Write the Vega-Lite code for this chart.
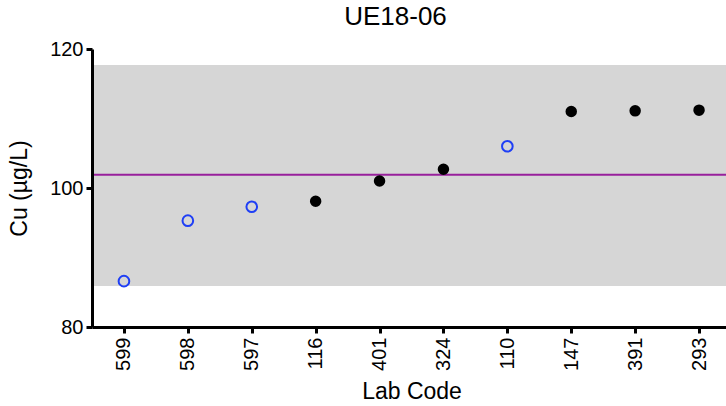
{
  "$schema": "https://vega.github.io/schema/vega-lite/v6.json",
  "autosize": {"type": "none"},
  "padding": {"left": 92, "top": 49, "right": 0, "bottom": 79},
  "width": 639,
  "height": 278,
  "background": "white",
  "title": {"text": "UE18-06", "fontSize": 26, "font": "Liberation Sans", "fontWeight": "normal", "anchor": "middle", "dx": -16, "offset": 9, "color": "black"},
  "config": {
    "view": {"stroke": null},
    "axis": {"labelFont": "Liberation Sans", "titleFont": "Liberation Sans", "labelColor": "black", "titleColor": "black", "domainColor": "black", "tickColor": "black", "domainWidth": 3, "tickWidth": 3, "tickSize": 6, "labelFontSize": 20, "titleFontSize": 23, "titleFontWeight": "normal", "grid": false}
  },
  "datasets": {
    "pts": [
      {"lab": "599", "cu": 86.6, "group": "open"},
      {"lab": "598", "cu": 95.3, "group": "open"},
      {"lab": "597", "cu": 97.3, "group": "open"},
      {"lab": "116", "cu": 98.1, "group": "filled"},
      {"lab": "401", "cu": 101.0, "group": "filled"},
      {"lab": "324", "cu": 102.7, "group": "filled"},
      {"lab": "110", "cu": 106.0, "group": "open"},
      {"lab": "147", "cu": 111.0, "group": "filled"},
      {"lab": "391", "cu": 111.1, "group": "filled"},
      {"lab": "293", "cu": 111.2, "group": "filled"}
    ],
    "band": [{"lo": 85.9, "hi": 117.7, "mid": 101.9}]
  },
  "layer": [
    {
      "data": {"name": "band"},
      "mark": {"type": "rect", "color": "#d6d6d6"},
      "encoding": {
        "y": {"field": "lo", "type": "quantitative", "scale": {"domain": [80, 120]}},
        "y2": {"field": "hi"}
      }
    },
    {
      "data": {"name": "band"},
      "mark": {"type": "rule", "color": "#98209c", "strokeWidth": 2},
      "encoding": {
        "y": {"field": "mid", "type": "quantitative"}
      }
    },
    {
      "data": {"name": "pts"},
      "mark": {"type": "point", "shape": "circle", "filled": true, "strokeWidth": 2, "opacity": 1},
      "encoding": {
        "x": {"field": "lab", "type": "ordinal", "sort": null, "scale": {"type": "point", "padding": 0.5}, "axis": {"zindex": 2, "title": "Lab Code", "labelAngle": -90, "labelAlign": "right", "labelBaseline": "middle", "labelPadding": 4, "titlePadding": 10}},
        "y": {"field": "cu", "type": "quantitative", "scale": {"domain": [80, 120]}, "axis": {"zindex": 2, "title": "Cu (µg/L)", "values": [80, 100, 120], "labelPadding": 3, "titlePadding": 18}},
        "fill": {"field": "group", "type": "nominal", "scale": {"domain": ["filled", "open"], "range": ["black", "transparent"]}, "legend": null},
        "stroke": {"field": "group", "type": "nominal", "scale": {"domain": ["filled", "open"], "range": ["black", "#1f3ff5"]}, "legend": null},
        "size": {"field": "group", "type": "nominal", "scale": {"domain": ["filled", "open"], "range": [90, 113]}, "legend": null}
      }
    }
  ]
}
